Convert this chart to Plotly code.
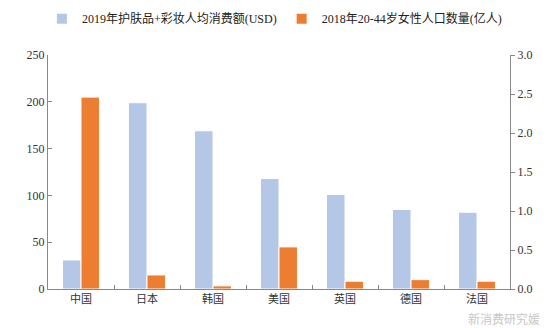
import plotly.graph_objects as go

categories = ["中国", "日本", "韩国", "美国", "英国", "德国", "法国"]
spend_usd = [31, 199, 169, 118, 101, 85, 82]
women_pop = [2.46, 0.18, 0.04, 0.54, 0.10, 0.12, 0.10]
name_spend = "2019年护肤品+彩妆人均消费额(USD)"
name_pop = "2018年20-44岁女性人口数量(亿人)"

font_fam = "Liberation Serif, Noto Sans CJK SC, serif"

fig = go.Figure()
fig.add_trace(go.Bar(x=categories, y=spend_usd, name=name_spend, marker_color="#B4C7E7",
                     marker_line=dict(color="white", width=1), offsetgroup="a", yaxis="y"))
fig.add_trace(go.Bar(x=categories, y=women_pop, name=name_pop, marker_color="#ED7D31",
                     marker_line=dict(color="white", width=1), offsetgroup="b", yaxis="y2"))

fig.update_layout(
    width=550, height=328,
    margin=dict(l=48, r=40, t=55, b=39, autoexpand=False),
    plot_bgcolor="white", paper_bgcolor="white",
    barmode="group", bargap=0.44, bargroupgap=0,
    font=dict(family=font_fam, size=12, color="#222"),
    legend=dict(orientation="h", x=0.49, xanchor="center", y=1.155, yanchor="middle",
                font=dict(size=12), traceorder="normal", itemsizing="constant"),
    xaxis=dict(showline=True, linecolor="#888", ticks="inside", tickson="boundaries",
               ticklen=4, tickcolor="#888", tickfont=dict(size=11, color="#333")),
    yaxis=dict(range=[0, 250], dtick=50, showline=True, linecolor="#888", ticks="inside",
               ticklen=4, tickcolor="#888", showgrid=False, zeroline=False,
               tickfont=dict(size=12, color="#333")),
    yaxis2=dict(range=[0, 3.0], dtick=0.5, tickformat=".1f", overlaying="y", side="right",
                showline=True, linecolor="#888", ticks="outside", ticklen=4, tickcolor="#888",
                showgrid=False, zeroline=False, tickfont=dict(size=12, color="#333")),
    annotations=[dict(text="新消费研究媛", x=1.07, xref="paper", y=-0.125, yref="paper",
                      xanchor="right", yanchor="middle", showarrow=False,
                      font=dict(size=12, color="#c8c8c8", family="Noto Sans CJK SC"))],
)

fig.write_html("out.html")
